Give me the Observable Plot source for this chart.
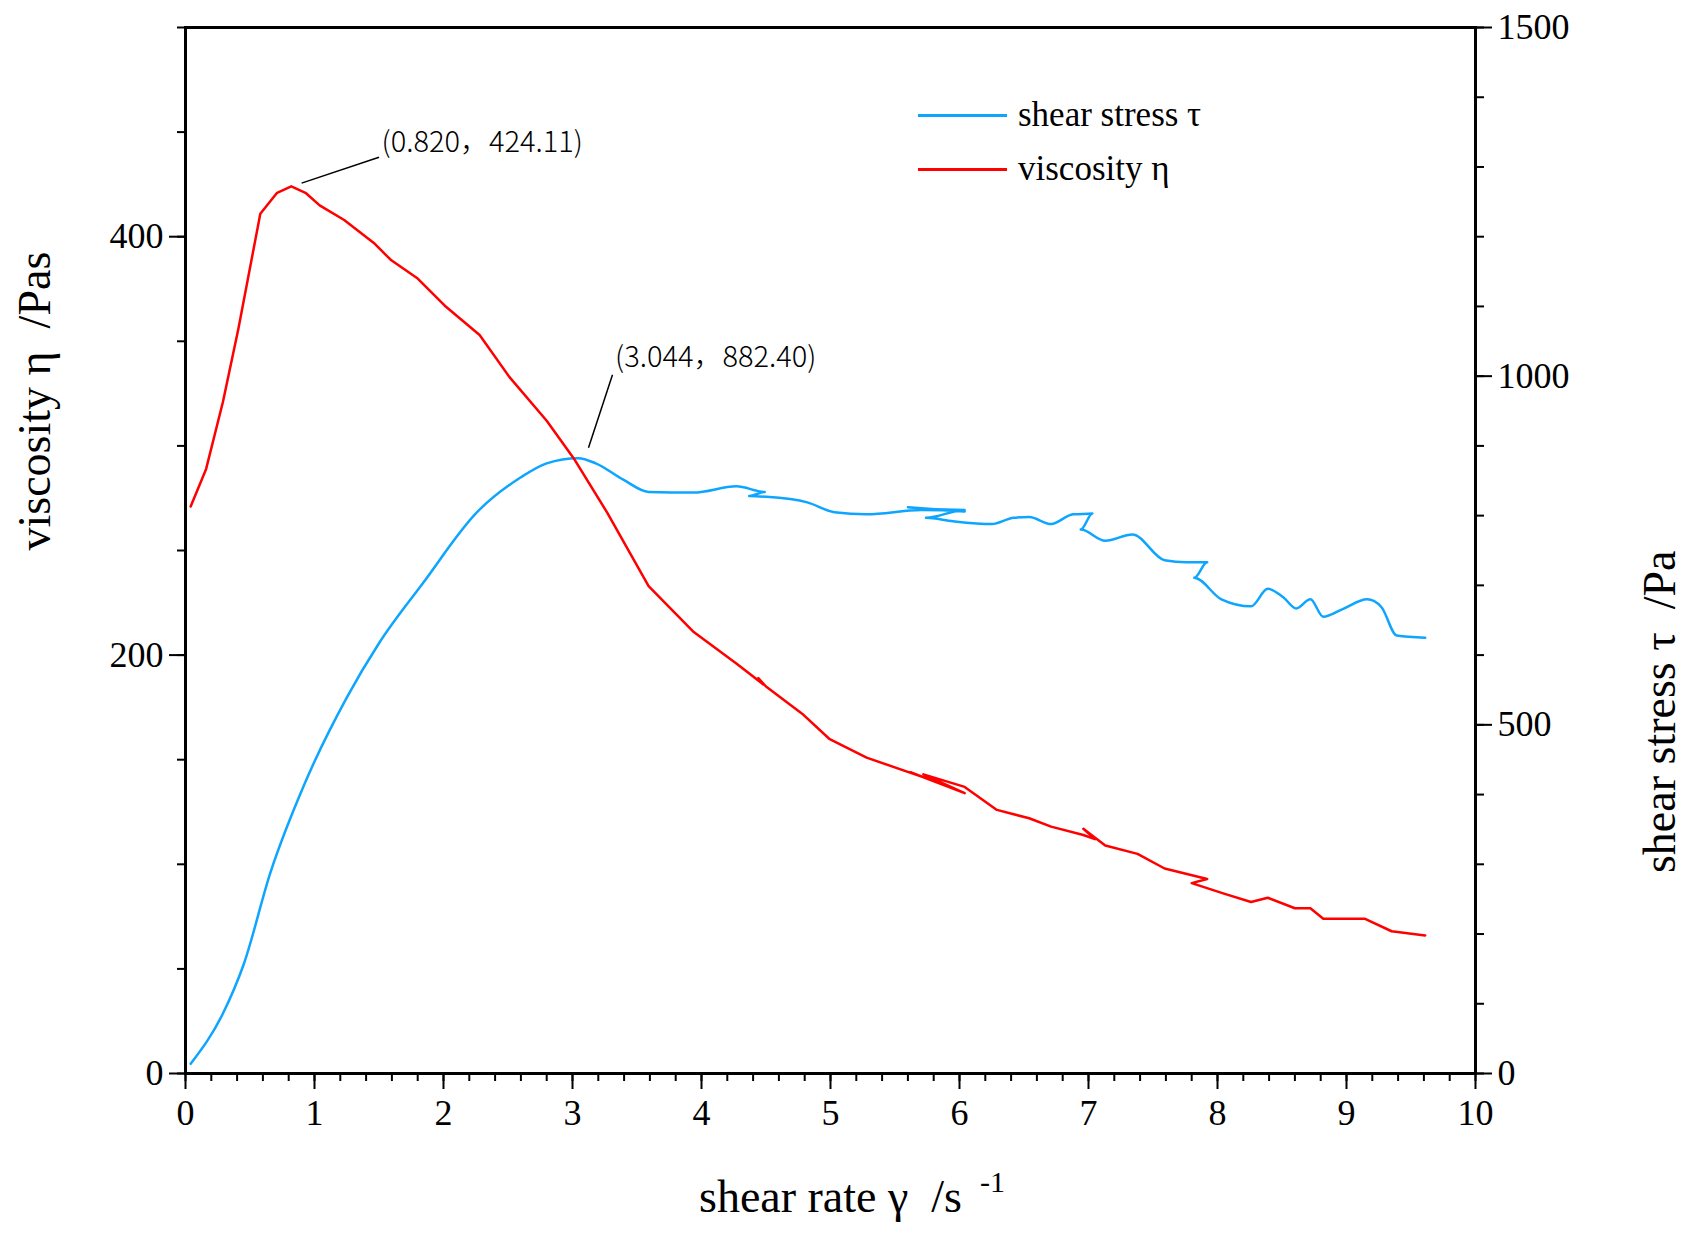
<!DOCTYPE html>
<html><head><meta charset="utf-8">
<script src="https://cdn.jsdelivr.net/npm/d3@7"></script>
<script src="https://cdn.jsdelivr.net/npm/@observablehq/plot@0.6"></script>
<style>body{margin:0;background:#fff;font-family:"Liberation Serif",serif}#wrap{position:relative;width:1695px;height:1241px}
.lg{position:absolute;font-size:35px;display:flex;align-items:center}.lg span{display:inline-block;width:89px;height:3px;margin-right:11px}</style>
</head><body><div id="wrap"></div>
<script>
const viscX=[0.04,0.16,0.29,0.41,0.58,0.71,0.82,0.93,1.04,1.23,1.46,1.59,1.80,2.01,2.28,2.51,2.80,3.01,3.27,3.59,3.94,4.27,4.48,4.44,4.50,4.78,4.99,5.28,5.70,5.62,6.04,5.72,6.04,6.29,6.54,6.71,6.96,7.05,6.96,7.13,7.38,7.59,7.92,7.80,8.05,8.26,8.39,8.60,8.72,8.82,9.14,9.35,9.61];
const viscY=[271,289,321,356,411,421,424.11,421,415,408,397,389,380,367,353,333,312,294,268,233,211,196,186,189,185,172,160,151,142,144,134,143,137,126,122,118,114,112,117,109,105,98,93,91,86,82,84,79,79,74,74,68,66];
const stressX=[0.04,0.29,0.45,0.66,0.92,1.25,1.50,1.84,2.26,2.60,2.80,3.044,3.18,3.39,3.59,3.94,4.27,4.49,4.37,4.50,4.82,5.03,5.28,5.70,6.04,5.60,6.04,5.74,5.95,6.25,6.42,6.54,6.71,6.88,7.03,6.94,7.13,7.34,7.59,7.76,7.92,7.82,8.03,8.26,8.39,8.51,8.61,8.72,8.82,8.97,9.16,9.27,9.39,9.61];
const stressY=[14,86,156,289,414,539,617,703,805,855,875,882.4,875,852,834,833,842,834,828,827,819,805,802,808,806,812,808,797,792,788,797,798,788,802,803,780,764,773,736,733,733,711,680,670,695,683,667,680,655,666,680,669,628,625];
const annX=[0.82,3.044], annY=[424.11,882.4/3], annLX=[1.50,3.31], annLY=[438,334], annTX=[1.52,3.33], annTY=[445,342];
const annText=["(0.820，424.11)","(3.044，882.40)"];
const visc=viscX.map((x,i)=>({x,y:viscY[i]}));
const stress=stressX.map((x,i)=>({x,y:stressY[i]/3}));
const ann=annX.map((x,i)=>({x1:x+0.08,y1:annY[i]+(i?5:1.5),x2:annLX[i],y2:annLY[i],tx:annTX[i],ty:annTY[i],t:annText[i]}));
const pl=Plot.plot({width:1695,height:1241,marginLeft:185,marginRight:220,marginTop:27,marginBottom:168,
 style:{fontFamily:"Liberation Serif, serif",background:"#fff",color:"#000",fontSize:"36px"},
 x:{domain:[0,10]},y:{domain:[0,500]},
 marks:[
  Plot.frame({strokeWidth:3}),
  Plot.axisX(d3.range(0,10.01,0.2),{tickSize:8,strokeWidth:2,text:null}),
  Plot.axisX(d3.range(0,11,1),{tickSize:16,strokeWidth:2,fontSize:36,tickPadding:10,tickFormat:d=>String(d),label:null}),
  Plot.axisY(d3.range(0,501,50),{tickSize:8,strokeWidth:2,text:null}),
  Plot.axisY([0,200,400],{tickSize:16,strokeWidth:2,fontSize:36,tickPadding:6,tickFormat:d=>String(d),label:null}),
  Plot.axisY(d3.range(0,501,100/3),{anchor:"right",tickSize:8,strokeWidth:2,text:null}),
  Plot.axisY([0,500/3,1000/3,500],{anchor:"right",tickSize:16,strokeWidth:2,fontSize:36,tickPadding:6,tickFormat:d=>String(Math.round(d*3)),label:null}),
  Plot.line(stress,{x:"x",y:"y",stroke:"#0ea5ff",strokeWidth:2.5,curve:"monotone-x"}),
  Plot.line(visc,{x:"x",y:"y",stroke:"#ff0000",strokeWidth:2.5}),
  Plot.link(ann,{x1:"x1",y1:"y1",x2:"x2",y2:"y2",stroke:"#000",strokeWidth:1.5}),
  Plot.text(ann,{x:"tx",y:"ty",text:"t",textAnchor:"start",fontSize:29,fontFamily:"Noto Sans CJK SC, Liberation Serif, serif",fontWeight:300}),
  Plot.text(["viscosity η  /Pas"],{frameAnchor:"left",dx:-150,rotate:-90,fontSize:46}),
  Plot.text(["shear stress τ  /Pa"],{frameAnchor:"right",dx:185,rotate:-90,fontSize:46}),
  Plot.text(["shear rate γ  /s"],{frameAnchor:"bottom",dy:138,fontSize:46}),
  Plot.text(["-1"],{frameAnchor:"bottom",dx:162,dy:118,fontSize:30})
 ]});
const w=document.getElementById("wrap");w.appendChild(pl);
w.insertAdjacentHTML("beforeend",'<div class="lg" style="left:918px;top:95px"><span style="background:#0ea5ff"></span>shear stress τ</div><div class="lg" style="left:918px;top:149px"><span style="background:#ff0000"></span>viscosity η</div>');
</script></body></html>
